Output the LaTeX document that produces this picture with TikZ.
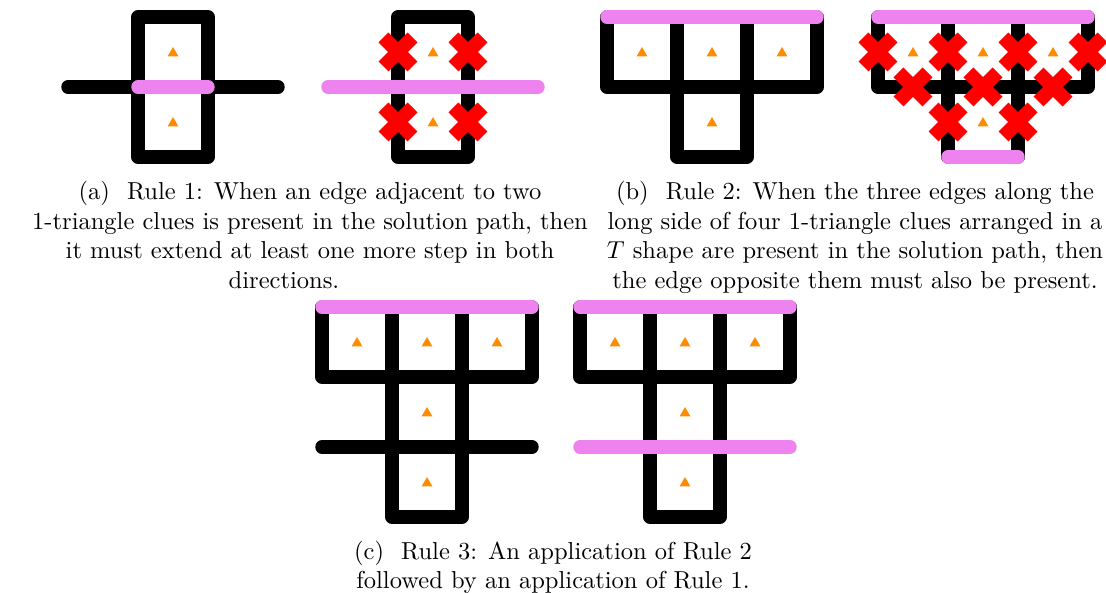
\documentclass[tikz,border=0pt]{standalone}
\usepackage{xcolor}
\definecolor{pinkv}{RGB}{238,130,238}
\definecolor{triorange}{RGB}{255,140,0}
\definecolor{crossred}{RGB}{255,0,0}
\tikzset{
  blk/.style={line width=5.5pt, line cap=round, line join=round, black},
  sol/.style={line width=5.5pt, line cap=round, pinkv},
  tri/.pic={\fill[triorange] (-5.5,4.5) -- (5.5,4.5) -- (0,-5) -- cycle;},
  xmark/.pic={\draw[crossred, line width=5.7pt, line cap=butt] (-14.5,-14.5) -- (14.5,14.5) (-14.5,14.5) -- (14.5,-14.5);},
  captxt/.style={font=\fontsize{10}{12}\selectfont, inner sep=0pt, anchor=base}
}
\begin{document}
\begin{tikzpicture}[x=0.408pt, y=-0.408pt]
\useasboundingbox (0,0) rectangle (1106,593);

% ---------- (a) left ----------
\foreach \p in {(173,52),(173,122)} \pic at \p {tri};
\draw[blk] (138,17) -- (208,17) -- (208,157) -- (138,157) -- cycle;
\draw[blk] (68,87) -- (278,87);
\draw[sol] (138,87) -- (208,87);

% ---------- (a) right ----------
\foreach \p in {(433,52),(433,122)} \pic at \p {tri};
\draw[blk] (398,17) -- (468,17) -- (468,157) -- (398,157) -- cycle;
\draw[sol] (328,87) -- (538,87);
\foreach \p in {(398,52),(468,52),(398,122),(468,122)} \pic at \p {xmark};

% ---------- (b) left ----------
\foreach \p in {(642,52),(712,52),(782,52),(712,122)} \pic at \p {tri};
\draw[blk] (607,17) -- (607,87) -- (817,87) -- (817,17);
\draw[blk] (677,17) -- (677,157) -- (747,157) -- (747,17);
\draw[sol] (607,17) -- (817,17);

% ---------- (b) right ----------
\foreach \p in {(913,52),(983,52),(1053,52),(983,122)} \pic at \p {tri};
\draw[blk] (878,17) -- (878,87) -- (1088,87) -- (1088,17);
\draw[blk] (948,17) -- (948,157);
\draw[blk] (1018,17) -- (1018,157);
\draw[sol] (878,17) -- (1088,17);
\draw[sol] (948,157) -- (1018,157);
\foreach \p in {(878,52),(948,52),(1018,52),(1088,52),(913,87),(983,87),(1053,87),(948,122),(1018,122)} \pic at \p {xmark};

% ---------- (c) left ----------
\foreach \p in {(357,342),(427,342),(497,342),(427,412),(427,482)} \pic at \p {tri};
\draw[blk] (322,307) -- (322,377) -- (532,377) -- (532,307);
\draw[blk] (392,307) -- (392,517) -- (462,517) -- (462,307);
\draw[blk] (322,447) -- (532,447);
\draw[sol] (322,307) -- (532,307);

% ---------- (c) right ----------
\foreach \p in {(615,342),(685,342),(755,342),(685,412),(685,482)} \pic at \p {tri};
\draw[blk] (580,307) -- (580,377) -- (790,377) -- (790,307);
\draw[blk] (650,307) -- (650,517) -- (720,517) -- (720,307);
\draw[sol] (580,307) -- (790,307);
\draw[sol] (580,447) -- (790,447);

% ---------- captions ----------
\node[captxt] (ca1) at (310,200) {(a)\hspace{7pt}Rule 1: When an edge adjacent to two};
\node[captxt] (ca2) at (310,229.4) {1-triangle clues is present in the solution path, then};
\node[captxt] (ca3) at (310,258.8) {it must extend at least one more step in both};
\node[captxt] (ca4) at (284,288.2) {directions.};

\node[captxt] (cb1) at (855,200) {(b)\hspace{7pt}Rule 2: When the three edges along the};
\node[captxt] (cb2) at (855,229.4) {long side of four 1-triangle clues arranged in a};
\node[captxt] (cb3) at (855,258.8) {$T$ shape are present in the solution path, then};
\node[captxt] (cb4) at (855,288.2) {the edge opposite them must also be present.};

\node[captxt] (cc1) at (553,560) {(c)\hspace{7pt}Rule 3: An application of Rule 2};
\node[captxt] (cc2) at (553,588.5) {followed by an application of Rule 1.};
\end{tikzpicture}
\end{document}
